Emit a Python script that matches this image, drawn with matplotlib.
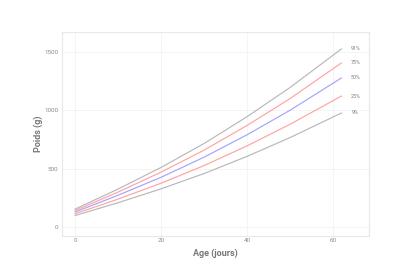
import matplotlib
matplotlib.use("Agg")
import matplotlib.pyplot as plt

# Courbes de croissance (percentiles)
age = [0, 10, 20, 30, 40, 50, 62]
p91 = [153, 325, 510, 715, 945, 1195, 1527]
p75 = [141, 299, 470, 658, 870, 1100, 1407]
p50 = [128, 272, 426, 598, 790, 1000, 1278]
p25 = [113, 239, 375, 526, 695, 880, 1123]
p9 = [98, 208, 327, 458, 605, 766, 978]

labels = ["91%", "75%", "50%", "25%", "9%"]
series = [p91, p75, p50, p25, p9]
colors = ["#b8b8b8", "#ffa3a3", "#a3a3ff", "#ffa3a3", "#b8b8b8"]

xticks = [0, 20, 40, 60]
yticks = [0, 500, 1000, 1500]

plt.rcParams["font.family"] = ["Roboto", "DejaVu Sans"]

fig = plt.figure(figsize=(4.0, 2.78), dpi=100)
ax = fig.add_axes([0.155, 0.151, 0.7675, 0.734])

for lab, vals, col in zip(labels, series, colors):
    ax.plot(age, vals, color=col, lw=0.85, solid_capstyle="round")
    ax.text(65.2, vals[-1], lab, fontsize=3.8, color="#777777",
            va="center", ha="center")

ax.set_xlim(-3.0, 68.4)
ax.set_ylim(-77, 1672)
ax.set_xticks(xticks)
ax.set_yticks(yticks)
ax.grid(True, color="#f2f2f2", lw=0.6)
ax.set_axisbelow(True)
for s in ax.spines.values():
    s.set_color("#e8e8e8")
    s.set_linewidth(0.8)
ax.tick_params(length=0, labelsize=4.5, labelcolor="#8a8a8a", pad=1.5)
ax.tick_params(axis="y", pad=2.5)

ax.set_xlabel("Age (jours)", fontsize=6.5, color="#777777", fontweight="bold", labelpad=4)
ax.set_ylabel("Poids (g)", fontsize=6.5, color="#777777", fontweight="bold", labelpad=1)

fig.savefig("out.png", dpi=100, facecolor="white")
